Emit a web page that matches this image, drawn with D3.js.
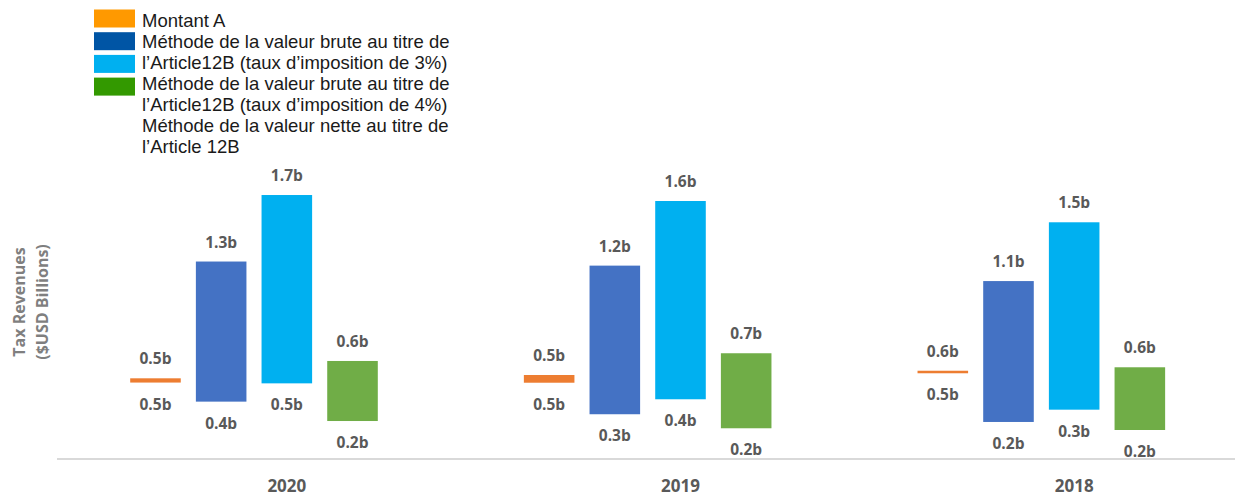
<!doctype html>
<html>
<head>
	<meta charset="utf-8">
	<script src="https://d3js.org/d3.v7.min.js"></script>
	<style>
		body { margin: 0; background: #fff; }
		svg { display: block; }
	</style>
</head>
<body>
	<div id="my_dataviz"></div>
	<script>

// categories (years) and the 5 slots of each group (the last one has no bar)
var categories = ["2020", "2019", "2018"];
var slots = ["montantA", "brute3", "brute3b", "brute4", "nette"];

// floating bars: low and high value of each series, per year ($USD billions)
var montantLow  = [0.485, 0.484, 0.544];
var montantHigh = [0.512, 0.533, 0.560];
var brute3Low   = [0.364, 0.284, 0.235];
var brute3High  = [1.253, 1.227, 1.129];
var brute3bLow  = [0.480, 0.379, 0.313];
var brute3bHigh = [1.675, 1.637, 1.502];
var brute4Low   = [0.241, 0.195, 0.184];
var brute4High  = [0.622, 0.671, 0.582];

var barColors = {montantA: "#ED7D31", brute3: "#4472C4", brute3b: "#00B0F0", brute4: "#70AD47"};

// legend (as it appears, text lines and swatches are laid out separately)
var legendLines = [
  "Montant A",
  "Méthode de la valeur brute au titre de",
  "l’Article12B (taux d’imposition de 3%)",
  "Méthode de la valeur brute au titre de",
  "l’Article12B (taux d’imposition de 4%)",
  "Méthode de la valeur nette au titre de",
  "l’Article 12B"
];
var legendSwatches = ["#FF9900", "#0055A5", "#00B0F0", "#339900"];

var width = 1235, height = 498;

var svg = d3.select("#my_dataviz")
  .append("svg")
    .attr("width", width)
    .attr("height", height);

// build rows
var bars = [];
categories.forEach(function(c, i) {
  bars.push({cat: c, key: "montantA", lo: montantLow[i],  hi: montantHigh[i]});
  bars.push({cat: c, key: "brute3",   lo: brute3Low[i],   hi: brute3High[i]});
  bars.push({cat: c, key: "brute3b",  lo: brute3bLow[i],  hi: brute3bHigh[i]});
  bars.push({cat: c, key: "brute4",   lo: brute4Low[i],   hi: brute4High[i]});
});

// scales
var x = d3.scaleBand()
    .domain(categories)
    .range([90, 1271]);

var x1 = d3.scaleBand()
    .domain(slots)
    .range([0, x.bandwidth()])
    .paddingInner(0.23)
    .paddingOuter(0.612);

var y = d3.scaleLinear()
    .domain([0, 2.5])
    .range([459, 459 - 2.5 * 157.6]);

// baseline
svg.append("line")
    .attr("x1", 57).attr("x2", width)
    .attr("y1", y(0)).attr("y2", y(0))
    .attr("stroke", "#d9d9d9")
    .attr("stroke-width", 2);

// x axis (year labels)
var xAxis = svg.append("g")
    .attr("transform", "translate(0," + y(0) + ")")
    .call(d3.axisBottom(x).tickSize(0));
xAxis.select(".domain").remove();
xAxis.selectAll("text")
    .attr("y", 27)
    .attr("dy", "0.35em")
    .style("font-family", "'Open Sans', sans-serif")
    .style("font-weight", "bold")
    .style("font-size", "17px")
    .style("fill", "#595959");

// bars
svg.append("g").selectAll("rect")
  .data(bars)
  .enter()
  .append("rect")
    .attr("x", function(d) { return x(d.cat) + x1(d.key); })
    .attr("width", x1.bandwidth())
    .attr("y", function(d) { return y(d.hi); })
    .attr("height", function(d) { return y(d.lo) - y(d.hi); })
    .attr("fill", function(d) { return barColors[d.key]; });

var fmt = function(v) { return v.toFixed(1) + "b"; };

// labels above and below
var labels = svg.append("g")
    .style("font-family", "'Open Sans', sans-serif")
    .style("font-weight", "bold")
    .style("font-size", "15.5px")
    .style("fill", "#595959")
    .attr("text-anchor", "middle");

labels.selectAll(".hi")
  .data(bars)
  .enter()
  .append("text")
    .attr("class", "hi")
    .attr("x", function(d) { return x(d.cat) + x1(d.key) + x1.bandwidth() / 2; })
    .attr("y", function(d) { return y(d.hi) - 20; })
    .attr("dominant-baseline", "central")
    .text(function(d) { return fmt(d.hi); });

labels.selectAll(".lo")
  .data(bars)
  .enter()
  .append("text")
    .attr("class", "lo")
    .attr("x", function(d) { return x(d.cat) + x1(d.key) + x1.bandwidth() / 2; })
    .attr("y", function(d) { return y(d.lo) + 21; })
    .attr("dominant-baseline", "central")
    .text(function(d) { return fmt(d.lo); });

// y axis title
var yTitle = svg.append("g")
    .attr("transform", "translate(19,302) rotate(-90)")
    .style("font-family", "'Open Sans', sans-serif")
    .style("font-weight", "bold")
    .style("font-size", "16px")
    .style("fill", "#7f7f7f")
    .attr("text-anchor", "middle");
yTitle.append("text").attr("x", 0).attr("y", 0).attr("dominant-baseline", "central").text("Tax Revenues");
yTitle.append("text").attr("x", 0).attr("y", 23).attr("dominant-baseline", "central").text("($USD Billions)");

// Handmade legend
var legend = svg.append("g");
legend.selectAll("rect")
  .data(legendSwatches)
  .enter()
  .append("rect")
    .attr("x", 94)
    .attr("y", function(d, i) { return 9.5 + i * 22.7; })
    .attr("width", 41)
    .attr("height", 18)
    .attr("fill", function(d) { return d; });

legend.selectAll("text")
  .data(legendLines)
  .enter()
  .append("text")
    .attr("x", 142)
    .attr("y", function(d, i) { return 20 + i * 21.1; })
    .attr("dominant-baseline", "central")
    .style("font-family", "'Liberation Sans', Arial, sans-serif")
    .style("font-size", "18.5px")
    .style("fill", "#1a1a1a")
    .text(function(d) { return d; });

	</script>
</body>
</html>
